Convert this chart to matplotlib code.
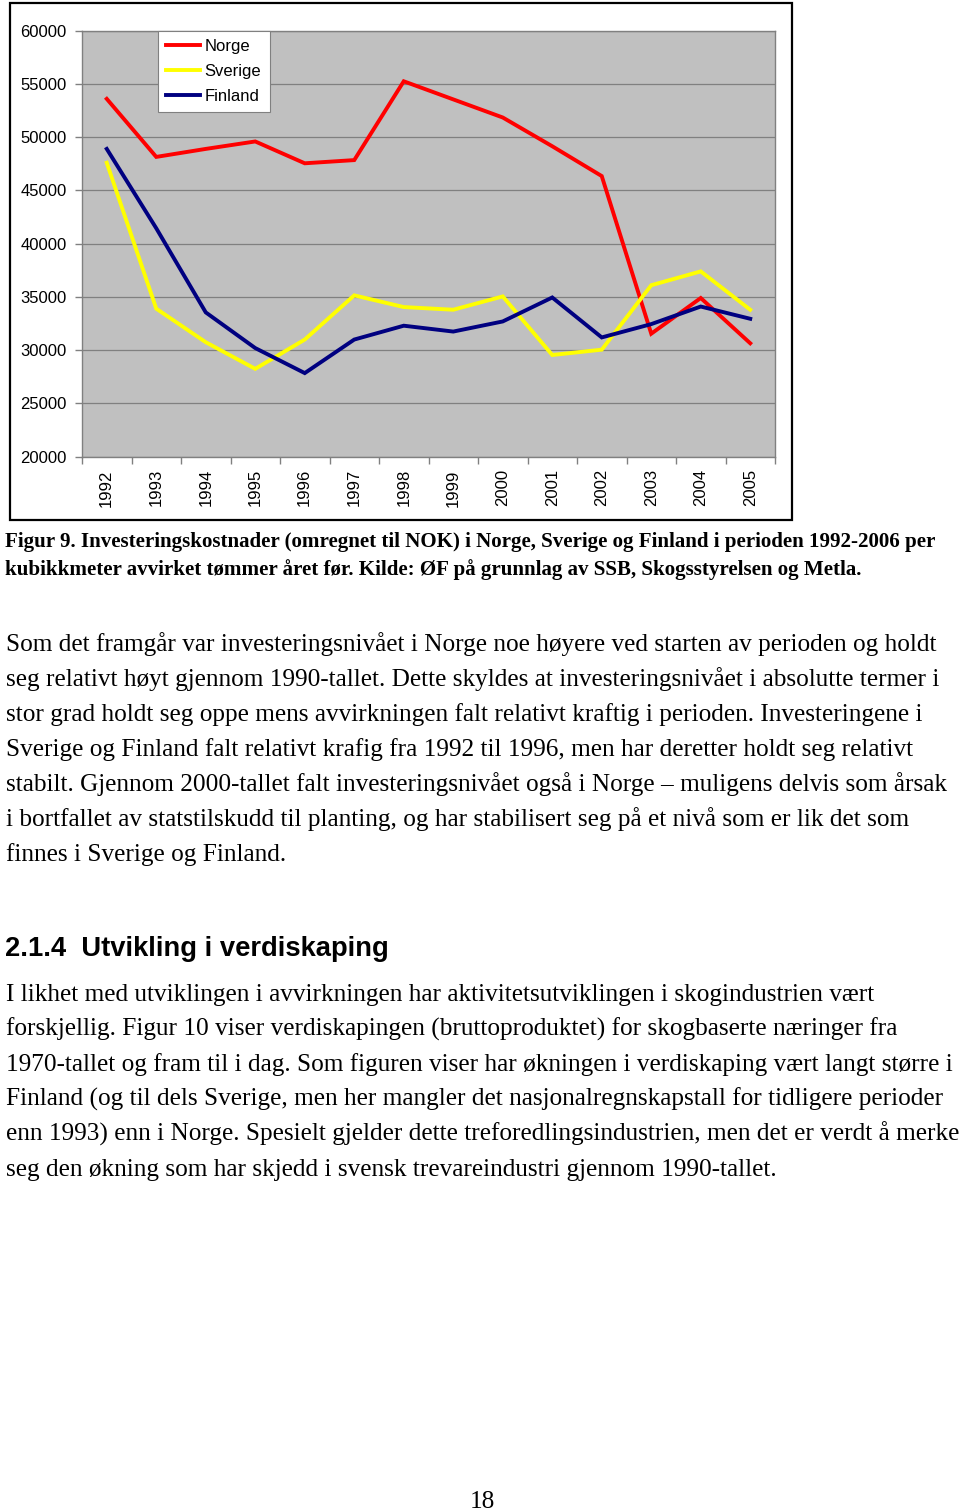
import numpy as np
import matplotlib.pyplot as plt
from matplotlib.patches import Rectangle

years = ['1992', '1993', '1994', '1995', '1996', '1997', '1998',
         '1999', '2000', '2001', '2002', '2003', '2004', '2005']
norge = [53600, 48150, 48900, 49600, 47550, 47850, 55250,
         53550, 51850, 49150, 46350, 31550, 34900, 30650]
sverige = [47600, 33900, 30750, 28250, 31000, 35150, 34050,
           33800, 35050, 29550, 30050, 36100, 37400, 33800]
finland = [48900, 41450, 33550, 30200, 27850, 31000, 32300,
           31750, 32700, 34950, 31200, 32450, 34100, 32950]
yticks = [20000, 25000, 30000, 35000, 40000, 45000, 50000, 55000, 60000]

caption = [
    "Figur 9. Investeringskostnader (omregnet til NOK) i Norge, Sverige og Finland i perioden 1992-2006 per",
    "kubikkmeter avvirket tømmer året før. Kilde: ØF på grunnlag av SSB, Skogsstyrelsen og Metla.",
]
para1 = [
    "Som det framgår var investeringsnivået i Norge noe høyere ved starten av perioden og holdt",
    "seg relativt høyt gjennom 1990-tallet. Dette skyldes at investeringsnivået i absolutte termer i",
    "stor grad holdt seg oppe mens avvirkningen falt relativt kraftig i perioden. Investeringene i",
    "Sverige og Finland falt relativt krafig fra 1992 til 1996, men har deretter holdt seg relativt",
    "stabilt. Gjennom 2000-tallet falt investeringsnivået også i Norge – muligens delvis som årsak",
    "i bortfallet av statstilskudd til planting, og har stabilisert seg på et nivå som er lik det som",
    "finnes i Sverige og Finland.",
]
heading = "2.1.4  Utvikling i verdiskaping"
para2 = [
    "I likhet med utviklingen i avvirkningen har aktivitetsutviklingen i skogindustrien vært",
    "forskjellig. Figur 10 viser verdiskapingen (bruttoproduktet) for skogbaserte næringer fra",
    "1970-tallet og fram til i dag. Som figuren viser har økningen i verdiskaping vært langt større i",
    "Finland (og til dels Sverige, men her mangler det nasjonalregnskapstall for tidligere perioder",
    "enn 1993) enn i Norge. Spesielt gjelder dette treforedlingsindustrien, men det er verdt å merke",
    "seg den økning som har skjedd i svensk trevareindustri gjennom 1990-tallet.",
]

W, H = 960, 1511
fig = plt.figure(figsize=(W / 100, H / 100), dpi=100)
fig.patch.set_facecolor('white')

def fx(x):
    return x / W

def fy(y):
    return 1 - y / H

# chart frame
fig.patches.append(Rectangle((fx(10), fy(520)), fx(782), 517 / H, transform=fig.transFigure,
                             fill=False, edgecolor='black', linewidth=1.6))

ax = fig.add_axes([fx(82), fy(456.7), fx(693), 426 / H])
ax.set_facecolor('#c0c0c0')
x = np.arange(len(years))
ax.plot(x, norge, color='#ff0000', lw=2.8, label='Norge', solid_joinstyle='miter')
ax.plot(x, sverige, color='#ffff00', lw=2.8, label='Sverige', solid_joinstyle='miter')
ax.plot(x, finland, color='#000080', lw=2.8, label='Finland', solid_joinstyle='miter')

ax.set_xlim(-0.5, len(years) - 0.5)
ax.set_ylim(20000, 60000)
ax.set_yticks(yticks)
ax.set_yticklabels([str(v) for v in yticks], fontsize=12, family='Liberation Sans')
ax.set_xticks(x)
ax.set_xticklabels(years, rotation=90, fontsize=12, family='Liberation Sans')
ax.set_xticks(np.arange(-0.5, len(years)), minor=True)
ax.tick_params(axis='x', which='major', length=0, pad=9)
ax.tick_params(axis='x', which='minor', length=5, color='#808080', width=1)
ax.tick_params(axis='y', length=5, color='#808080', width=1, pad=6)
ax.yaxis.grid(True, color='#808080', lw=0.9)
ax.set_axisbelow(True)
for s in ax.spines.values():
    s.set_color('#808080')
    s.set_linewidth(1)

leg = ax.legend(loc='upper left', bbox_to_anchor=((158 - 82) / 693, 1.0),
                fancybox=False, framealpha=1, edgecolor='#808080',
                prop={'family': 'Liberation Sans', 'size': 12},
                handlelength=2.0, handletextpad=0.3, labelspacing=0.6,
                borderpad=0.5, borderaxespad=0)
leg.get_frame().set_linewidth(0.8)

# page text
renderer = fig.canvas.get_renderer()

def fit(t, width):
    bb = t.get_window_extent(renderer)
    t.set_fontsize(t.get_fontsize() * width / bb.width)
    return t.get_fontsize()

cap_t = [fig.text(fx(5), fy(547 + 28 * i), s, fontsize=14, weight='bold',
                  family='Liberation Serif', va='baseline') for i, s in enumerate(caption)]
cs = fit(cap_t[0], 937)
for t in cap_t[1:]:
    t.set_fontsize(cs)

p1 = [fig.text(fx(6), fy(651 + 35 * i), s, fontsize=17, family='Liberation Serif',
               va='baseline') for i, s in enumerate(para1)]
bs = fit(p1[0], 930)
for t in p1[1:]:
    t.set_fontsize(bs)

h = fig.text(fx(5), fy(956.5), heading, fontsize=20, weight='bold',
             family='Liberation Sans', va='baseline')
fit(h, 382)

for i, s in enumerate(para2):
    fig.text(fx(6), fy(1001 + 35 * i), s, fontsize=bs, family='Liberation Serif', va='baseline')

fig.text(fx(482), fy(1508), "18", fontsize=bs, family='Liberation Serif',
         va='baseline', ha='center')

fig.savefig('out.png', dpi=100)
